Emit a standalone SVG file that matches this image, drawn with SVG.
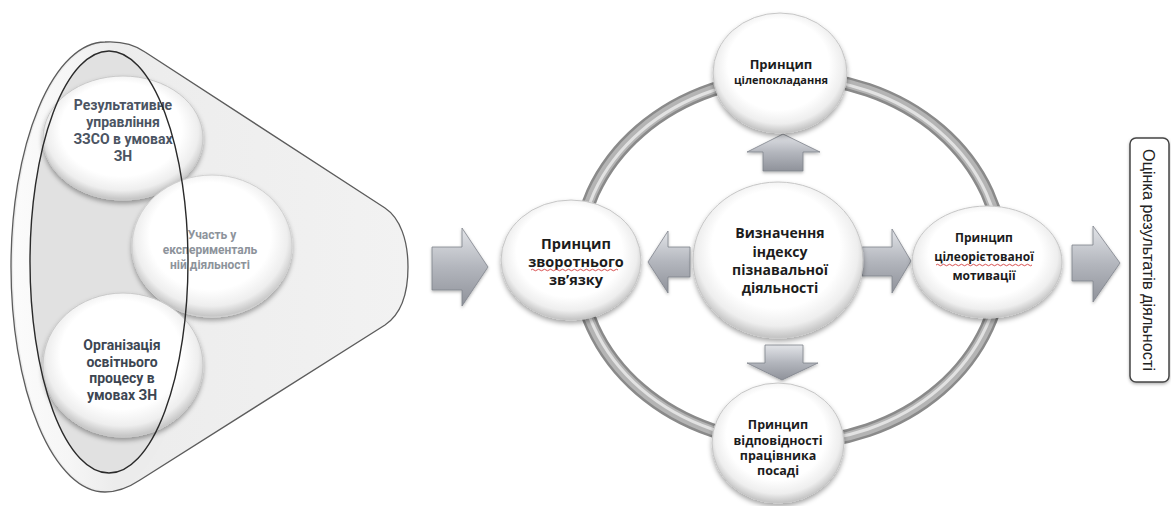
<svg xmlns="http://www.w3.org/2000/svg" width="1171" height="506" viewBox="0 0 1171 506">
<style>
.t{font-family:"Open Sans","Liberation Sans",sans-serif;font-weight:bold;text-anchor:middle}
.r{font-family:Roboto,"Liberation Sans",sans-serif;font-weight:bold;text-anchor:middle}
.dk{fill:#1c1c1c}
.arrow{fill:url(#arG);stroke:#7f838b;stroke-width:0.8}
.sq{fill:none;stroke:#d23c3c;stroke-width:0.9}
</style>
<defs>
<radialGradient id="bub" cx="50%" cy="46%" r="54%" fx="46%" fy="36%">
<stop offset="0" stop-color="#ffffff"/>
<stop offset="0.7" stop-color="#ffffff"/>
<stop offset="0.88" stop-color="#eeeeee"/>
<stop offset="1" stop-color="#c2c2c2"/>
</radialGradient>
<linearGradient id="arG" x1="0" y1="0" x2="0" y2="1">
<stop offset="0" stop-color="#e2e4e8"/>
<stop offset="0.5" stop-color="#b3b6bd"/>
<stop offset="1" stop-color="#8f929a"/>
</linearGradient>
<linearGradient id="coneG" x1="0" y1="0" x2="1" y2="0">
<stop offset="0" stop-color="#eaeaea"/>
<stop offset="1" stop-color="#f2f2f2"/>
</linearGradient>
<linearGradient id="capG" x1="0" y1="0" x2="1" y2="0">
<stop offset="0" stop-color="#fbfbfb"/>
<stop offset="0.3" stop-color="#f6f6f6"/>
<stop offset="0.55" stop-color="#ececec"/>
<stop offset="1" stop-color="#ececec"/>
</linearGradient>
<filter id="sh" x="-20%" y="-20%" width="140%" height="150%">
<feDropShadow dx="0" dy="3" stdDeviation="2.5" flood-color="#000" flood-opacity="0.35"/>
</filter>
<filter id="shs" x="-20%" y="-20%" width="140%" height="150%">
<feDropShadow dx="0" dy="1.5" stdDeviation="1.5" flood-color="#000" flood-opacity="0.3"/>
</filter>
</defs>
<rect width="1171" height="506" fill="#ffffff"/>

<g id="funnel">
<path d="M105,42 C122,41 135,45 145,52 L385,208 C400,218 408,240 408,267 C408,295 400,315 385,325 L140,480 C128,488 118,492 105,492 A94 225 0 0 1 105,42 Z" fill="url(#coneG)" stroke="#5c5c5c" stroke-width="1.3"/>
<ellipse cx="105" cy="267" rx="92" ry="223" fill="url(#capG)"/>
<ellipse cx="109" cy="262" rx="79" ry="211" fill="#e1e1e1"/>
</g>

<g id="node-result">
<ellipse cx="123" cy="138" rx="80" ry="62" fill="url(#bub)" stroke="#c9c9c9" stroke-width="1" filter="url(#sh)"/>
<text class="r" fill="#4b5462" font-size="14"><tspan x="123" y="110">Результативне</tspan><tspan x="123" y="127">управління</tspan><tspan x="123" y="144">ЗЗСО в умовах</tspan><tspan x="123" y="161">ЗН</tspan></text>
</g>
<g id="node-experiment">
<ellipse cx="212" cy="246" rx="80" ry="71" fill="url(#bub)" stroke="#d0d0d0" stroke-width="1" filter="url(#sh)"/>
<text class="r" fill="#8d939b" font-size="12"><tspan x="212" y="239">Участь у</tspan><tspan x="210" y="254">експерименталь</tspan><tspan x="210" y="269">ній діяльності</tspan></text>
</g>
<g id="node-organization">
<ellipse cx="123" cy="365" rx="80" ry="72" fill="url(#bub)" stroke="#c9c9c9" stroke-width="1" filter="url(#sh)"/>
<text class="r" fill="#3d4652" font-size="14"><tspan x="122" y="350">Організація</tspan><tspan x="122" y="366.5">освітнього</tspan><tspan x="122" y="383">процесу в</tspan><tspan x="122" y="399.5">умовах ЗН</tspan></text>
</g>
<g id="funnel-outline">
<ellipse cx="109" cy="262" rx="79" ry="211" fill="none" stroke="#2a2a2a" stroke-width="1.4"/>
</g>

<g id="ring">
<ellipse cx="790" cy="260" rx="212" ry="183" fill="none" stroke="#8a8a8a" stroke-width="14"/>
<ellipse cx="790" cy="260" rx="212" ry="183" fill="none" stroke="#b4b4b4" stroke-width="9"/>
<ellipse cx="790" cy="260" rx="211" ry="182" fill="none" stroke="#e2e2e2" stroke-width="3"/>
</g>

<g id="connectors">
<polygon class="arrow" points="432,247 462,247 462,228 488,267 462,306 462,290 432,290" filter="url(#shs)"/>
<polygon class="arrow" points="690,247 668,247 668,231 648,262 668,293 668,277 690,277" filter="url(#shs)"/>
<polygon class="arrow" points="862,247 892,247 892,229 911,261 892,293 892,276 862,276" filter="url(#shs)"/>
<polygon class="arrow" points="763,171 763,152 747,152 783,134 820,152 803,152 803,171" filter="url(#shs)"/>
<polygon class="arrow" points="765,345 803,345 803,363 818,363 782,380 747,363 765,363" filter="url(#shs)"/>
<polygon class="arrow" points="1072,245 1093,245 1093,226 1120,263 1093,302 1093,281 1072,281" filter="url(#shs)"/>
</g>

<g id="node-goal">
<ellipse cx="780" cy="73" rx="67" ry="60" fill="url(#bub)" stroke="#c6c6c6" stroke-width="1" filter="url(#sh)"/>
<text class="t dk"><tspan x="781" y="69" font-size="13">Принцип</tspan><tspan x="781" y="84" font-size="11">цілепокладання</tspan></text>
</g>
<g id="node-feedback">
<ellipse cx="571" cy="260" rx="70" ry="60" fill="url(#bub)" stroke="#c6c6c6" stroke-width="1" filter="url(#sh)"/>
<text class="t dk" font-size="14.5"><tspan x="576" y="249">Принцип</tspan><tspan x="576" y="267">зворотнього</tspan><tspan x="576" y="285">зв’язку</tspan></text>
<path class="sq" d="M531,270 q1.5,-1.5 3,0 t3,0 t3,0 t3,0 t3,0 t3,0 t3,0 t3,0 t3,0 t3,0 t3,0 t3,0 t3,0 t3,0 t3,0 t3,0 t3,0 t3,0 t3,0 t3,0 t3,0 t3,0 t3,0 t3,0 t3,0 t3,0 t3,0 t3,0 t3,0"/>
</g>
<g id="node-center">
<ellipse cx="778" cy="260" rx="85" ry="78" fill="url(#bub)" stroke="#c6c6c6" stroke-width="1" filter="url(#sh)"/>
<text class="t dk" font-size="14"><tspan x="780" y="238">Визначення</tspan><tspan x="780" y="257">індексу</tspan><tspan x="780" y="275">пізнавальної</tspan><tspan x="780" y="293">діяльності</tspan></text>
</g>
<g id="node-motivation">
<ellipse cx="987" cy="262" rx="75" ry="56" fill="url(#bub)" stroke="#c6c6c6" stroke-width="1" filter="url(#sh)"/>
<text class="t dk" font-size="12"><tspan x="984" y="242">Принцип</tspan><tspan x="984" y="261">цілеорієтованої</tspan><tspan x="984" y="280">мотивації</tspan></text>
<path class="sq" d="M936,265 q1.5,-1.5 3,0 t3,0 t3,0 t3,0 t3,0 t3,0 t3,0 t3,0 t3,0 t3,0 t3,0 t3,0 t3,0 t3,0 t3,0 t3,0 t3,0 t3,0 t3,0 t3,0 t3,0 t3,0 t3,0 t3,0 t3,0 t3,0 t3,0 t3,0 t3,0 t3,0 t3,0 t3,0"/>
</g>
<g id="node-position">
<ellipse cx="778" cy="443" rx="66" ry="60" fill="url(#bub)" stroke="#c6c6c6" stroke-width="1" filter="url(#sh)"/>
<text class="t dk" font-size="12.5"><tspan x="778" y="429">Принцип</tspan><tspan x="778" y="445">відповідності</tspan><tspan x="778" y="460">працівника</tspan><tspan x="778" y="475">посаді</tspan></text>
</g>
<g id="node-evaluation">
<rect x="1130" y="138" width="39" height="244" rx="6" fill="#ffffff" stroke="#454545" stroke-width="1.5" filter="url(#shs)"/>
<text x="1149" y="260" transform="rotate(90 1149 260)" font-family="'Liberation Sans',Arial,sans-serif" font-size="16.5" fill="#222" text-anchor="middle" dominant-baseline="central" textLength="222" lengthAdjust="spacingAndGlyphs">Оцінка результатів діяльності</text>
</g>
</svg>
